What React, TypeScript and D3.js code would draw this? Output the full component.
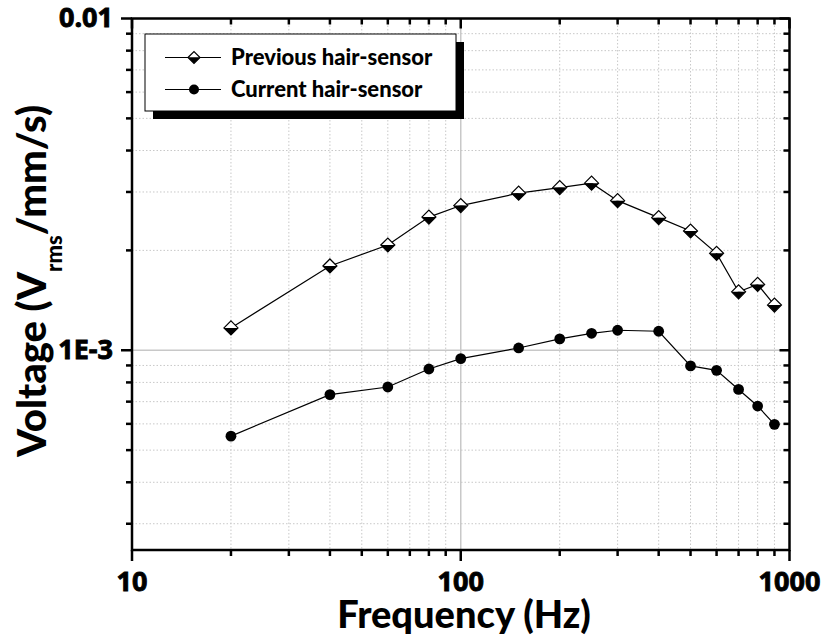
import React from "react";
import * as d3 from "d3";

// Frequency sweep (Hz)
const frequencies = [20, 40, 60, 80, 100, 150, 200, 250, 300, 400, 500, 600, 700, 800, 900];
// Voltage response, V_rms per mm/s
const previousSensor = [
  1.168e-3, 1.795e-3, 2.076e-3, 2.52e-3, 2.73e-3, 2.975e-3, 3.093e-3, 3.189e-3,
  2.825e-3, 2.51e-3, 2.288e-3, 1.959e-3, 1.5e-3, 1.579e-3, 1.368e-3,
];
const currentSensor = [
  5.51e-4, 7.35e-4, 7.75e-4, 8.78e-4, 9.44e-4, 1.016e-3, 1.082e-3, 1.125e-3,
  1.149e-3, 1.141e-3, 8.97e-4, 8.7e-4, 7.62e-4, 6.79e-4, 5.98e-4,
];
const seriesNames = ["Previous hair-sensor", "Current hair-sensor"];

const xMajorTicks = [10, 100, 1000];
const xTickLabels = ["10", "100", "1000"];
const yMajorTicks = [1e-3, 1e-2];
const yTickLabels = ["1E-3", "0.01"];

const W = 825;
const H = 636;
const left = 132;
const right = 789.5;
const top = 18.5;
const bottom = 550;
const FONT = "Lato, 'Open Sans', sans-serif";
const TICK_FONT = "'Open Sans', Lato, sans-serif";
const HEAVY = 900;

const x = d3.scaleLog().domain([10, 1000]).range([left, right]);
const y = d3.scaleLog().domain([2.5e-4, 1e-2]).range([bottom, top]);

const minorOf = (majors: number[], lo: number, hi: number) => {
  const out: number[] = [];
  for (const m of majors) {
    for (let k = 2; k <= 9; k++) {
      const v = m * k;
      if (v > lo * 1.0001 && v < hi * 0.9999) out.push(v);
    }
  }
  return out;
};
const xMinor = minorOf([10, 100], 10, 1000);
const yMinor = minorOf([1e-4, 1e-3], 2.5e-4, 1e-2);

const line = d3
  .line<[number, number]>()
  .x((d) => x(d[0]))
  .y((d) => y(d[1]));

const prevPts: [number, number][] = frequencies.map((f, i) => [f, previousSensor[i]]);
const currPts: [number, number][] = frequencies.map((f, i) => [f, currentSensor[i]]);

const Diamond = ({ cx, cy, r = 7 }: { cx: number; cy: number; r?: number }) => (
  <g>
    <path d={`M${cx - r},${cy} L${cx},${cy - r} L${cx + r},${cy} Z`} fill="#fff" />
    <path d={`M${cx - r},${cy} L${cx},${cy + r} L${cx + r},${cy} Z`} fill="#000" />
    <path
      d={`M${cx - r},${cy} L${cx},${cy - r} L${cx + r},${cy} L${cx},${cy + r} Z`}
      fill="none"
      stroke="#000"
      strokeWidth={1.2}
    />
  </g>
);

export default function App() {
  const gridColor = "#c8c8c8";
  return (
    <svg
      width={W}
      height={H}
      style={{ position: "absolute", left: 0, top: 0, background: "#fff" }}
      fontFamily={FONT}
    >
      <rect width={W} height={H} fill="#fff" />

      {/* minor grid */}
      {xMinor.map((v) => (
        <line key={`gx${v}`} x1={x(v)} x2={x(v)} y1={top} y2={bottom} stroke={gridColor} strokeWidth={1} strokeDasharray="1.5,2" />
      ))}
      {yMinor.map((v) => (
        <line key={`gy${v}`} x1={left} x2={right} y1={y(v)} y2={y(v)} stroke={gridColor} strokeWidth={1} strokeDasharray="1.5,2" />
      ))}
      {/* major grid */}
      <line x1={x(100)} x2={x(100)} y1={top} y2={bottom} stroke={gridColor} strokeWidth={1.5} />
      <line x1={left} x2={right} y1={y(1e-3)} y2={y(1e-3)} stroke={gridColor} strokeWidth={1.5} />

      {/* series lines */}
      <path d={line(prevPts) || ""} fill="none" stroke="#000" strokeWidth={1.2} />
      <path d={line(currPts) || ""} fill="none" stroke="#000" strokeWidth={1.2} />
      {prevPts.map((p, i) => (
        <Diamond key={`d${i}`} cx={x(p[0])} cy={y(p[1])} />
      ))}
      {currPts.map((p, i) => (
        <circle key={`c${i}`} cx={x(p[0])} cy={y(p[1])} r={5.4} fill="#000" />
      ))}

      {/* frame */}
      <rect x={left} y={top} width={right - left} height={bottom - top} fill="none" stroke="#000" strokeWidth={2.5} />

      {/* bottom axis ticks (outward) and top axis ticks (inward) */}
      {xMajorTicks.map((v) => (
        <g key={`xt${v}`}>
          <line x1={x(v)} x2={x(v)} y1={bottom} y2={bottom + 11} stroke="#000" strokeWidth={2.5} />
          <line x1={x(v)} x2={x(v)} y1={top} y2={top + 10} stroke="#000" strokeWidth={2.5} />
        </g>
      ))}
      {xMinor.map((v) => (
        <g key={`xm${v}`}>
          <line x1={x(v)} x2={x(v)} y1={bottom} y2={bottom + 6} stroke="#000" strokeWidth={2.5} />
          <line x1={x(v)} x2={x(v)} y1={top} y2={top + 6} stroke="#000" strokeWidth={2.5} />
        </g>
      ))}
      {/* left axis ticks (outward) and right axis ticks (inward) */}
      {yMajorTicks.map((v) => (
        <g key={`yt${v}`}>
          <line x1={left - 11} x2={left} y1={y(v)} y2={y(v)} stroke="#000" strokeWidth={2.5} />
          <line x1={right - 10} x2={right} y1={y(v)} y2={y(v)} stroke="#000" strokeWidth={2.5} />
        </g>
      ))}
      {yMinor.map((v) => (
        <g key={`ym${v}`}>
          <line x1={left - 6} x2={left} y1={y(v)} y2={y(v)} stroke="#000" strokeWidth={2.5} />
          <line x1={right - 6} x2={right} y1={y(v)} y2={y(v)} stroke="#000" strokeWidth={2.5} />
        </g>
      ))}

      {/* tick labels */}
      {xMajorTicks.map((v, i) => (
        <text key={`xl${v}`} x={x(v)} y={591} textAnchor="middle" fontFamily={TICK_FONT} fontSize={27} fontWeight={700} fill="#000" stroke="#000" strokeWidth={0.9}>
          {xTickLabels[i]}
        </text>
      ))}
      {yMajorTicks.map((v, i) => (
        <text key={`yl${v}`} x={113} y={y(v) + 8.5} textAnchor="end" fontFamily={TICK_FONT} fontSize={27} fontWeight={700} fill="#000" stroke="#000" strokeWidth={0.9}>
          {yTickLabels[i]}
        </text>
      ))}

      {/* axis titles */}
      <text x={464} y={628} textAnchor="middle" fontSize={38} fontWeight={HEAVY} fill="#000">
        Frequency (Hz)
      </text>
      <text transform="translate(46,281) rotate(-90)" textAnchor="middle" fontSize={40} fontWeight={HEAVY} fill="#000">
        Voltage (V
        <tspan fontSize={22} dy={16}>rms</tspan>
        <tspan dy={-16}>/mm/s)</tspan>
      </text>

      {/* legend */}
      <rect x={153} y={42} width={311} height={77} fill="#000" />
      <rect x={145} y={34} width={311} height={77} fill="#fff" stroke="#000" strokeWidth={1} />
      <line x1={165} x2={221} y1={57.5} y2={57.5} stroke="#000" strokeWidth={1.2} />
      <Diamond cx={194} cy={57.5} r={6} />
      <text x={231} y={65} fontSize={22} fontWeight={HEAVY} fill="#000">
        {seriesNames[0]}
      </text>
      <line x1={165} x2={221} y1={89.5} y2={89.5} stroke="#000" strokeWidth={1.2} />
      <circle cx={194} cy={89.5} r={5} fill="#000" />
      <text x={231} y={97} fontSize={22} fontWeight={HEAVY} fill="#000">
        {seriesNames[1]}
      </text>
    </svg>
  );
}
